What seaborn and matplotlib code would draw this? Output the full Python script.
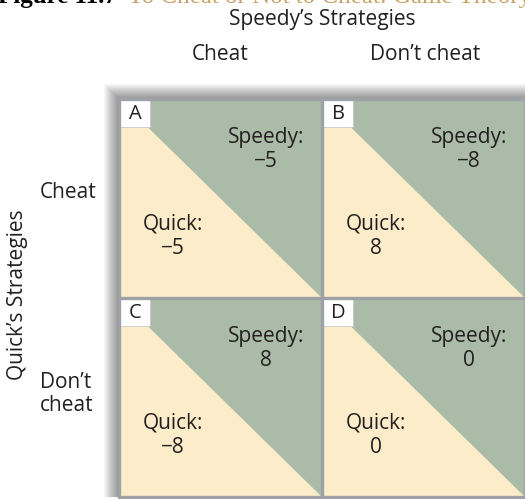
import numpy as np
import matplotlib
matplotlib.use("Agg")
import matplotlib.pyplot as plt
import seaborn as sns
from matplotlib.colors import ListedColormap
from matplotlib.patches import Polygon, Rectangle

# payoff matrix data
col_strategies = ["Cheat", "Don\u2019t cheat"]
row_strategies = ["Cheat", "Don\u2019t\ncheat"]
cell_letters = [["A", "B"], ["C", "D"]]
speedy_payoff = [[-5, -8], [8, 0]]
quick_payoff = [[-5, 8], [-8, 0]]

GREEN = "#aabba8"
YELLOW = "#fdecc9"
LINE = "#9ea2a6"
TEXT = "#231f20"
FS = 15

sns.set_theme(style="white")
plt.rcParams["font.family"] = ["Open Sans", "DejaVu Sans"]

W, H = 525, 499
fig = plt.figure(figsize=(W / 100, H / 100), dpi=100)
fig.patch.set_facecolor("white")

def fx(px):
    return px / W

def fy(py):
    return 1 - py / H

# grid area in pixels
left, top, cw, ch = 119, 99, 203, 199
ax = fig.add_axes([fx(left), fy(top + 2 * ch), 2 * cw / W, 2 * ch / H])

sns.heatmap(np.zeros((2, 2)), cmap=ListedColormap([GREEN]), cbar=False,
            xticklabels=False, yticklabels=False, ax=ax)

# drop shadow behind the frame (top and left)
px_x, px_y = 1 / cw, 1 / ch
for i in range(1, 16):
    ax.add_patch(Rectangle((-i * px_x, -i * px_y), 2 + i * px_x, 2 + i * px_y,
                           facecolor="black", edgecolor="none", alpha=0.03,
                           zorder=-5, clip_on=False))

def fmt(v):
    return str(v).replace("-", "\u2212")

for r in range(2):
    for c in range(2):
        ax.add_patch(Polygon([(c, r), (c, r + 1), (c + 1, r + 1)],
                             closed=True, facecolor=YELLOW, edgecolor="none", zorder=2))
        # letter box
        bw, bh = 31 * px_x, 28 * px_y
        ax.add_patch(Rectangle((c, r), bw, bh, facecolor="white",
                               edgecolor="#c8c8c8", lw=0.6, zorder=3))
        ax.text(c + bw / 2 + 1 * px_x, r + bh / 2 + 1 * px_y, cell_letters[r][c],
                ha="center", va="center", fontsize=14.5, color=TEXT, zorder=4)
        ax.text(c + 0.724, r + 0.255, "Speedy:\n" + fmt(speedy_payoff[r][c]),
                ha="center", va="center", fontsize=FS, color=TEXT,
                linespacing=1.2, zorder=4)
        ax.text(c + 0.265, r + 0.69, "Quick:\n" + fmt(quick_payoff[r][c]),
                ha="center", va="center", fontsize=FS, color=TEXT,
                linespacing=1.2, zorder=4)

for v in range(3):
    ax.axvline(v, color=LINE, lw=2.4, zorder=5, clip_on=False)
    ax.axhline(v, color=LINE, lw=2.4, zorder=5, clip_on=False)
ax.set_xlim(0, 2)
ax.set_ylim(2, 0)
ax.axis("off")

# headers
fig.text(fx(322), fy(19), "Speedy\u2019s Strategies", ha="center", va="center",
         fontsize=FS, color=TEXT)
for x_px, lab in zip([220, 425], col_strategies):
    fig.text(fx(x_px), fy(55), lab, ha="center", va="center", fontsize=FS, color=TEXT)
fig.text(fx(40), fy(193), row_strategies[0], ha="left", va="center", fontsize=FS, color=TEXT)
fig.text(fx(40), fy(394), row_strategies[1], ha="left", va="center", fontsize=FS,
         color=TEXT, linespacing=1.1)
fig.text(fx(18), fy(295), "Quick\u2019s Strategies", ha="center", va="center",
         rotation=90, fontsize=FS, color=TEXT)

# caption, clipped at the very top as in the source
fig.text(fx(-2), fy(3), "Figure 11.7", ha="left", va="baseline", fontsize=18,
         fontweight="bold", family="Liberation Serif", color="black")
fig.text(fx(128), fy(3), "To Cheat or Not to Cheat: Game Theory", ha="left",
         va="baseline", fontsize=18, family="Liberation Serif", color="#c9a267")

fig.savefig("out.png", dpi=100)
